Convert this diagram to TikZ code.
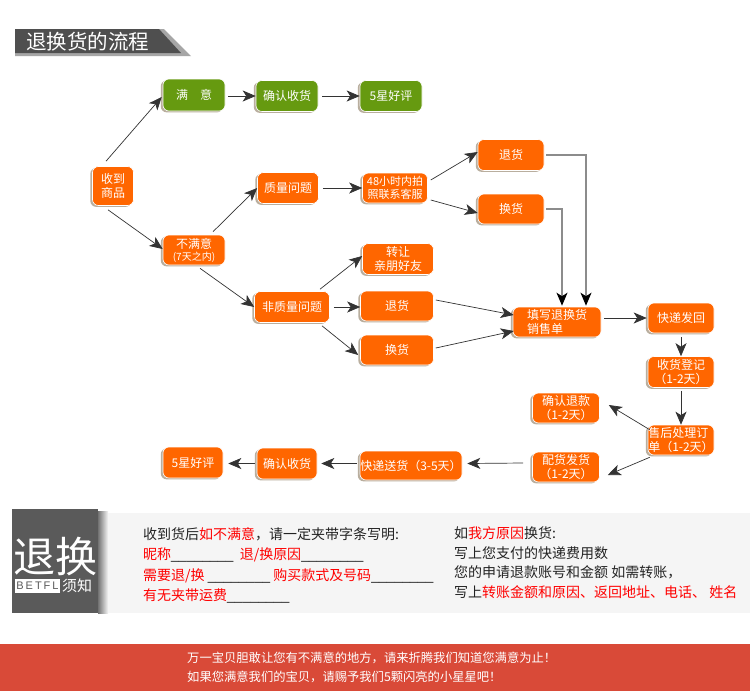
\documentclass[tikz,border=0pt]{standalone}
\usepackage{fontspec}
\setmainfont{Noto Sans CJK SC}
\newfontfamily\lsans{Liberation Sans}
\newfontfamily\betfont[LetterSpace=18]{Liberation Sans}
\usetikzlibrary{arrows.meta,shadows}
\definecolor{orng}{HTML}{FF6600}
\definecolor{grn}{HTML}{669A10}
\definecolor{hdr}{HTML}{4F4F4F}
\definecolor{blk}{HTML}{5A5A5A}
\definecolor{pnl}{HTML}{F5F5F5}
\definecolor{ftr}{HTML}{D94A38}
\definecolor{txt}{HTML}{222222}
\definecolor{rd}{HTML}{FF0000}
\definecolor{shd}{HTML}{B9AE9E}
\newcommand{\blankline}{{\lsans\_\_\_\_\_\_\_\_}}
\begin{document}
\begin{tikzpicture}[x=1pt,y=-1pt,
  box/.style={rounded corners=6pt, draw=white, line width=0.6pt, text=white,
    font=\fontsize{12}{14}\selectfont, align=center, inner sep=0pt,
    drop shadow={shadow xshift=-2.2pt, shadow yshift=-1.4pt, fill=shd, opacity=1}},
  obox/.style={box, fill=orng},
  gbox/.style={box, fill=grn},
  arr/.style={draw=black!80, line width=0.7pt, -{Stealth[length=13pt,width=11pt,inset=3.5pt]}},
  garr/.style={draw=black!45, line width=1.4pt, -{Stealth[length=13pt,width=11pt,inset=3.5pt,color=black]}},
  ltxt/.style={anchor=west, inner sep=0pt, text=txt, font=\fontsize{14}{16}\selectfont},
]
\useasboundingbox (0,0) rectangle (750,691);
\fill[white] (0,0) rectangle (750,691);

% header
\fill[black!35] (15,29) -- (164,29) -- (191,56) -- (15,56) -- cycle;
\fill[hdr] (15,29) -- (159,29) -- (181,53) -- (15,53) -- cycle;
\node[anchor=west, inner sep=0pt, text=white, font=\fontsize{20.5}{22}\selectfont] (title) at (26,42) {退换货的流程};

% top row
\node[obox, minimum width=41pt, minimum height=39pt] (sd) at (113,186) {收到\\商品};
\node[gbox, minimum width=62pt, minimum height=32pt] (my) at (194,95) {满　意};
\node[gbox, minimum width=62pt, minimum height=31pt] (qr) at (287,96) {确认收货};
\node[gbox, minimum width=62pt, minimum height=31pt] (g5) at (391,96) {5星好评};

% branches
\node[obox, minimum width=62pt, minimum height=30pt] (bmy) at (194,250) {不满意\\[-2pt]{\fontsize{10}{11}\selectfont (7天之内)}};
\node[obox, minimum width=61pt, minimum height=31pt] (zl) at (288,188) {质量问题};
\node[obox, minimum width=65pt, minimum height=30pt, font=\fontsize{11}{13}\selectfont] (h48) at (395,188) {48小时内拍\\照联系客服};
\node[obox, minimum width=66pt, minimum height=31pt] (th1) at (511,155) {退货};
\node[obox, minimum width=66pt, minimum height=30pt] (hh1) at (511,209) {换货};
\node[obox, minimum width=75pt, minimum height=31pt] (fz) at (292,307) {非质量问题};
\node[obox, minimum width=71pt, minimum height=31pt] (zr) at (398,259) {转让\\亲朋好友};
\node[obox, minimum width=73pt, minimum height=30pt] (th2) at (397,306) {退货};
\node[obox, minimum width=73pt, minimum height=30pt] (hh2) at (397,350) {换货};

% processing chain
\node[obox, minimum width=88pt, minimum height=30pt, align=left] (tx) at (557,322) {填写退换货\\销售单};
\node[obox, minimum width=66pt, minimum height=30pt] (kf) at (681,318) {快递发回};
\node[obox, minimum width=66pt, minimum height=31pt] (sh) at (681,372) {收货登记\\（1-2天）};
\node[obox, minimum width=66pt, minimum height=30pt, align=left] (sc) at (681,440) {售后处理订\\单（1-2天）};
\node[obox, minimum width=67pt, minimum height=30pt] (qt) at (566,408) {确认退款\\（1-2天）};
\node[obox, minimum width=67pt, minimum height=30pt] (ph) at (566,467) {配货发货\\（1-2天）};
\node[obox, minimum width=102pt, minimum height=29pt] (ks) at (411,465.5) {快递送货（3-5天）};
\node[obox, minimum width=60pt, minimum height=31pt] (qr2) at (287,463.5) {确认收货};
\node[obox, minimum width=60pt, minimum height=31pt] (g52) at (193,462.5) {5星好评};

% connectors
\draw[arr] ([shift={(-7,-5)}]sd.north) -- ([shift={(-1,2)}]my.west);
\draw[arr] ([shift={(-5,4)}]sd.south) -- ([shift={(0,-1)}]bmy.west);
\draw[arr] ([shift={(3,1)}]my.east) -- (qr.west);
\draw[arr] ([shift={(4,0)}]qr.east) -- (g5.west);
\draw[arr] ([shift={(19,-3)}]bmy.north) -- (zl.west);
\draw[arr] ([shift={(6,3)}]bmy.south) -- (fz.west);
\draw[arr] ([shift={(4,0)}]zl.east) -- (h48.west);
\draw[arr] ([shift={(3,-8)}]h48.east) -- ([shift={(0,-3)}]th1.west);
\draw[arr] ([shift={(3,12)}]h48.east) -- ([shift={(0,4)}]hh1.west);
\draw[arr] ([shift={(28,-2)}]fz.north) -- ([shift={(0,-3)}]zr.west);
\draw[arr] ([shift={(4,0)}]fz.east) -- ([shift={(0,1)}]th2.west);
\draw[arr] ([shift={(30,3)}]fz.south) -- ([shift={(-2,5)}]hh2.west);
\draw[arr] ([shift={(2,-6)}]th2.east) -- ([shift={(1,-7)}]tx.west);
\draw[arr] ([shift={(2,-2)}]hh2.east) -- ([shift={(1,9)}]tx.west);
\draw[garr] ([xshift=2pt]th1.east) -| ([shift={(29,-1)}]tx.north);
\draw[garr] ([xshift=2pt]hh1.east) -| ([shift={(5,-1)}]tx.north);
\draw[arr] ([shift={(3,-4)}]tx.east) -- ([shift={(-1,0)}]kf.west);
\draw[arr] ([shift={(0,4)}]kf.south) -- (sh.north);
\draw[arr] ([shift={(0,3)}]sh.south) -- (sc.north);
\draw[arr] ([shift={(2,5)}]sc.north west) -- ([shift={(9,-3)}]qt.east);
\draw[arr] ([shift={(2,2)}]sc.south west) -- ([shift={(8,8)}]ph.east);
\draw[arr] ([shift={(-9,-4)}]ph.west) -- ([shift={(5,-2)}]ks.east);
\draw[arr] ([shift={(-3,-2)}]ks.west) -- ([shift={(4,0)}]qr2.east);
\draw[arr] ([shift={(-2,0)}]qr2.west) -- ([shift={(5,1)}]g52.east);

% notice panel
\fill[pnl] (98,513) rectangle (750,613);
\shade[left color=black!55, right color=pnl] (98,511) rectangle (108,613);
\fill[blk] (12,509) rectangle (98,613);
\node[inner sep=0pt, text=white, font=\fontsize{42}{44}\selectfont] (big) at (55,557) {退换};
\node[fill=white, inner sep=0pt, minimum width=45pt, minimum height=14pt, text=blk, font=\betfont\fontsize{11}{12}\selectfont] (bet) at (37.5,585.5) {BETFL};
\node[anchor=west, inner sep=0pt, text=white, font=\fontsize{15}{16}\selectfont] (xz) at (62,586) {须知};

\node[ltxt] (l1) at (143,534) {收到货后\textcolor{rd}{如不满意}，请一定夹带字条写明:};
\node[ltxt] (l2) at (143,555) {\textcolor{rd}{昵称}\blankline\ \ \textcolor{rd}{退/换原因}\blankline};
\node[ltxt] (l3) at (143,575.5) {\textcolor{rd}{需要退/换} \blankline\ \textcolor{rd}{购买款式及号码}\blankline};
\node[ltxt] (l4) at (143,596) {\textcolor{rd}{有无夹带运费}\blankline};

\node[ltxt] (r1) at (454,533) {如\textcolor{rd}{我方原因}换货:};
\node[ltxt] (r2) at (454,553) {写上您支付的快递费用数};
\node[ltxt] (r3) at (454,572.5) {您的申请退款账号和金额 如需转账，};
\node[ltxt] (r4) at (454,592) {写上\textcolor{rd}{转账金额和原因、返回地址、电话、 姓名}};

% footer
\fill[ftr] (0,644) rectangle (750,691);
\node[anchor=west, inner sep=0pt, text=white, font=\fontsize{12.3}{14}\selectfont] (f1) at (187,658) {万一宝贝胆敢让您有不满意的地方，请来折腾我们知道您满意为止！};
\node[anchor=west, inner sep=0pt, text=white, font=\fontsize{12.3}{14}\selectfont] (f2) at (187,676.5) {如果您满意我们的宝贝，请赐予我们5颗闪亮的小星星吧！};
\end{tikzpicture}
\end{document}
